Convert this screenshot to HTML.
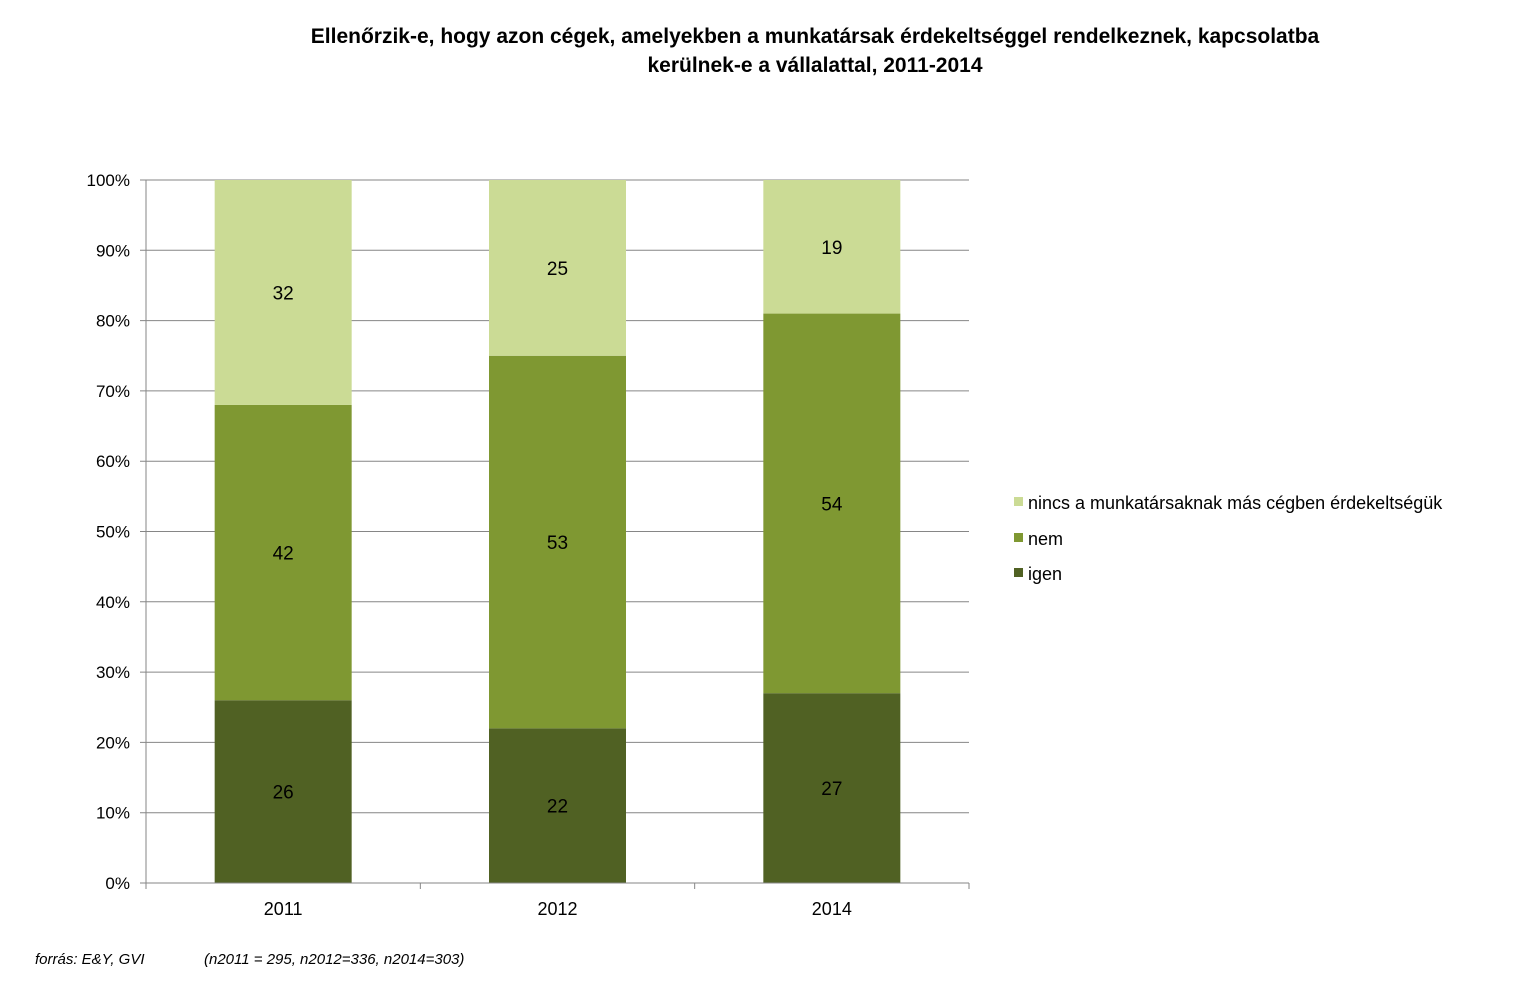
<!DOCTYPE html>
<html><head><meta charset="utf-8"><style>
body{margin:0;background:#fff;width:1528px;height:999px;overflow:hidden;font-family:"Liberation Sans",Arial,sans-serif}
</style></head><body>
<svg id="chart" width="1528" height="999" xmlns="http://www.w3.org/2000/svg">
<text x="815" y="43" text-anchor="middle" font-size="21" font-weight="bold">Ellenőrzik-e, hogy azon cégek, amelyekben a munkatársak érdekeltséggel rendelkeznek, kapcsolatba</text>
<text x="815" y="72" text-anchor="middle" font-size="21" font-weight="bold">kerülnek-e a vállalattal, 2011-2014</text>
<g id="grid"></g><g id="bars"></g><g id="axes"></g>
<g>
<rect x="1014" y="497" width="9" height="9" fill="#cbdb95"/>
<text x="1028" y="509" font-size="18">nincs a munkatársaknak más cégben érdekeltségük</text>
<rect x="1014" y="533" width="9" height="9" fill="#7f9832"/>
<text x="1028" y="545" font-size="18">nem</text>
<rect x="1014" y="568" width="9" height="9" fill="#506123"/>
<text x="1028" y="580" font-size="18">igen</text>
</g>
<text x="35" y="964" font-size="15" font-style="italic">forrás: E&amp;Y, GVI</text>
<text x="204" y="964" font-size="15" font-style="italic">(n2011 = 295, n2012=336, n2014=303)</text>
</svg>
<script>
const categories=["2011","2012","2014"];
const igen=[26,22,27];
const nem=[42,53,54];
const nincs=[32,25,19];
const yTicks=[0,10,20,30,40,50,60,70,80,90,100];
const NS="http://www.w3.org/2000/svg";
const X0=146,X1=969,Y0=883,Y1=180;
const bw=(X1-X0)/categories.length;
function y(v){return Y0-(Y0-Y1)*v/100;}
function xc(i){return X0+bw*(i+0.5);}
function mk(tag,attrs,parent){const e=document.createElementNS(NS,tag);for(const k in attrs)e.setAttribute(k,attrs[k]);parent.appendChild(e);return e;}
const grid=document.getElementById('grid'),bars=document.getElementById('bars'),axes=document.getElementById('axes');
yTicks.forEach(t=>{
  const l=mk('line',{x1:X0-6,x2:X1,y1:y(t),y2:y(t),stroke:'#868686','stroke-width':1},grid);
  
  
  const tx=mk('text',{x:130,y:y(t)+6,'text-anchor':'end','font-size':17},axes);
  tx.textContent=t+'%';
  
  
});
const series=[[igen,'#506123','igen'],[nem,'#7f9832','nem'],[nincs,'#cbdb95','nincs']];
categories.forEach((c,i)=>{
  let base=0;
  series.forEach(([arr,col,nm])=>{
    const v=arr[i];
    const r=mk('rect',{x:xc(i)-68.5,width:137,y:y(base+v),height:y(base)-y(base+v),fill:col},bars);
    
    
    const t=mk('text',{x:xc(i),y:(y(base)+y(base+v))/2+7,'text-anchor':'middle','font-size':19},bars);
    t.textContent=v;
    
    
    base+=v;
  });
  const lab=mk('text',{x:xc(i),y:915,'text-anchor':'middle','font-size':18},axes);
  lab.textContent=c;
  
  
});
const ya=mk('line',{x1:X0,x2:X0,y1:Y1,y2:Y0,stroke:'#868686'},axes);


const xa=mk('line',{x1:X0,x2:X1,y1:Y0,y2:Y0,stroke:'#868686'},axes);


for(let i=0;i<=categories.length;i++){
  const tk=mk('line',{x1:X0+bw*i,x2:X0+bw*i,y1:Y0,y2:Y0+6,stroke:'#868686'},axes);
  
  
}
</script>
</body></html>
